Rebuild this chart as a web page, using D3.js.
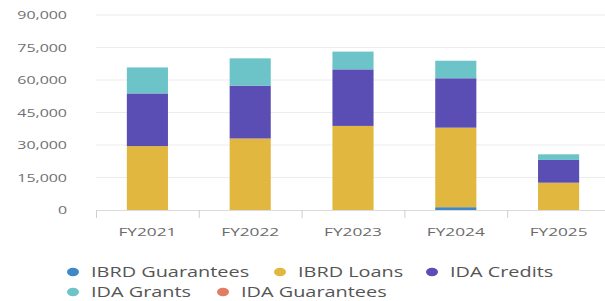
<!DOCTYPE html>
<html>
<head>
<meta charset="utf-8">
<script src="https://cdn.jsdelivr.net/npm/d3@7"></script>
<style>
  body { margin: 0; background: #fff; }
  text { font-family: "Open Sans", sans-serif; }
</style>
</head>
<body>
<svg id="chart" width="605" height="301"></svg>
<script>
// fiscal years and commitments (US$ millions)
var years = ["FY2021", "FY2022", "FY2023", "FY2024", "FY2025"];
var seriesNames = ["IBRD Guarantees", "IBRD Loans", "IDA Credits", "IDA Grants", "IDA Guarantees"];
var ibrdGuarantees = [0, 0, 0, 1300, 0];
var ibrdLoans = [29500, 33000, 38800, 36700, 12600];
var idaCredits = [24300, 24400, 26100, 22800, 10500];
var idaGrants = [12000, 12600, 8200, 8100, 2600];
var idaGuarantees = [0, 0, 0, 0, 0];
var yTicks = [0, 15000, 30000, 45000, 60000, 75000, 90000];

var colors = ["#3f88c8", "#e1b73f", "#5a4db4", "#6dc4c8", "#e27c62"];
var stretch = 1.5; // text in the source is squashed wide

var rows = years.map((y, i) => ({
  year: y,
  "IBRD Guarantees": ibrdGuarantees[i],
  "IBRD Loans": ibrdLoans[i],
  "IDA Credits": idaCredits[i],
  "IDA Grants": idaGrants[i],
  "IDA Guarantees": idaGuarantees[i]
}));

var svg = d3.select("#chart");

var x = d3.scaleBand().domain(years).range([96, 610]).paddingInner(0.6).paddingOuter(0.3);
var y = d3.scaleLinear().domain([0, 90000]).range([210, 15]);

// grid
svg.append("g")
  .selectAll("line")
  .data(yTicks.slice(1))
  .enter().append("line")
  .attr("x1", 96).attr("x2", 605)
  .attr("y1", d => y(d)).attr("y2", d => y(d))
  .attr("stroke", "#ececec");

// y labels
svg.append("g")
  .selectAll("text")
  .data(yTicks)
  .enter().append("text")
  .attr("transform", d => `translate(67,${y(d) + 4}) scale(1.45,1)`)
  .attr("text-anchor", "end")
  .attr("font-size", 11)
  .attr("fill", "#707070")
  .text(d => d3.format(",")(d));

// bars
var stack = d3.stack().keys(seriesNames)(rows);
svg.append("g")
  .selectAll("g")
  .data(stack)
  .enter().append("g")
  .attr("fill", (d, i) => colors[i])
  .selectAll("rect")
  .data(d => d)
  .enter().append("rect")
  .attr("x", d => x(d.data.year))
  .attr("width", x.bandwidth())
  .attr("y", d => y(d[1]))
  .attr("height", d => y(d[0]) - y(d[1]));

// x axis
var step = x.step();
svg.append("line")
  .attr("x1", 96).attr("x2", 605)
  .attr("y1", 210.5).attr("y2", 210.5)
  .attr("stroke", "#dcdcdc");
svg.append("g")
  .selectAll("line")
  .data(d3.range(years.length + 1))
  .enter().append("line")
  .attr("x1", i => 96.5 + i * step).attr("x2", i => 96.5 + i * step)
  .attr("y1", 210).attr("y2", 218)
  .attr("stroke", "#cfcfcf");
svg.append("g")
  .selectAll("text")
  .data(years)
  .enter().append("text")
  .attr("transform", d => `translate(${x(d) + x.bandwidth() / 2},236) scale(${stretch},1)`)
  .attr("text-anchor", "middle")
  .attr("font-size", 11.5)
  .attr("fill", "#6b6b6b")
  .text(d => d);

// legend
var legendPos = [[73, 272], [280, 272], [432, 272], [73, 292], [223, 292]];
var leg = svg.append("g")
  .selectAll("g")
  .data(seriesNames)
  .enter().append("g")
  .attr("transform", (d, i) => `translate(${legendPos[i][0]},${legendPos[i][1]})`);
leg.append("ellipse")
  .attr("rx", 6).attr("ry", 4.2)
  .attr("fill", (d, i) => colors[i]);
leg.append("text")
  .attr("transform", "translate(18,5) scale(1.42,1)")
  .attr("font-size", 14)
  .attr("fill", "#555")
  .text(d => d);
</script>
</body>
</html>
